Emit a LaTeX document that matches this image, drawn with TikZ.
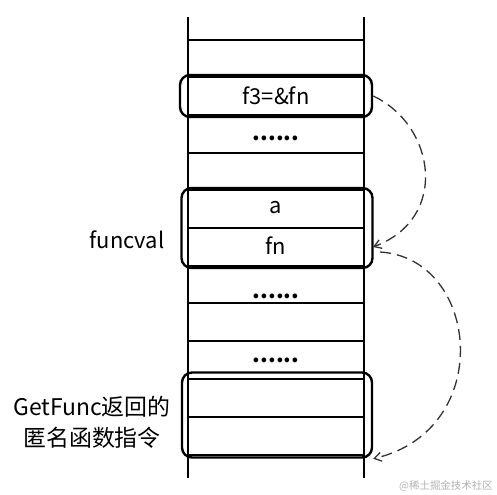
\documentclass[tikz,border=0pt]{standalone}
\usepackage{fontspec}
\setmainfont{Noto Sans CJK SC}
\usetikzlibrary{arrows.meta}
\begin{document}
\begin{tikzpicture}[x=1bp,y=-1bp,
  cell/.style={line width=1.2bp},
  frame/.style={draw=black, line width=2.4bp, rounded corners=10bp, inner sep=0pt},
  link/.style={dash pattern=on 11bp off 6bp, line width=1.3bp, draw=black!80,
    -{Straight Barb[length=7bp,width=9bp]}},
  lbl/.style={font=\fontsize{22}{26}\selectfont}]
\useasboundingbox (0,0) rectangle (497,495);
% stack
\draw[cell] (188,17)--(188,478);
\draw[cell] (364,17)--(364,478);
\foreach \y in {40,77,115,153,190,228,266,303,341,379,417,455}
  \draw[cell] (188,\y)--(364,\y);
% cell texts
\node[lbl] (f3) at (276,96) {f3=\&fn};
\node[lbl] (dots1) at (276,138) {\textbf{......}};
\node[lbl] (a) at (276,208) {a};
\node[lbl] (fn) at (276,246) {fn};
\node[lbl] (dots2) at (276,296) {\textbf{......}};
\node[lbl] (dots3) at (276,360) {\textbf{......}};
% frames
\node[frame, minimum width=192bp, minimum height=42bp] (f3box) at (276,96) {};
\node[frame, minimum width=191bp, minimum height=80bp] (fnbox) at (277,228) {};
\node[frame, minimum width=190bp, minimum height=85bp] (codebox) at (277,415) {};
% side labels
\node[lbl] (funcval) at (127,240) {funcval};
\node[lbl, font=\fontsize{23}{31}\selectfont, align=center] (code) at (92,422)
  {GetFunc返回的\\匿名函数指令};
% pointers
\coordinate (fnin) at (373,247);
\coordinate (fnout) at (380,252);
\draw[link] (f3box.east) .. controls (435,125) and (450,218) .. (fnin);
\draw[link] (fnout) .. controls (480,258) and (496,430) .. (codebox.south east);
\node[text=black!30, font=\fontsize{10.5}{12}\selectfont] (mark) at (446,486) {@稀土掘金技术社区};
\end{tikzpicture}
\end{document}
